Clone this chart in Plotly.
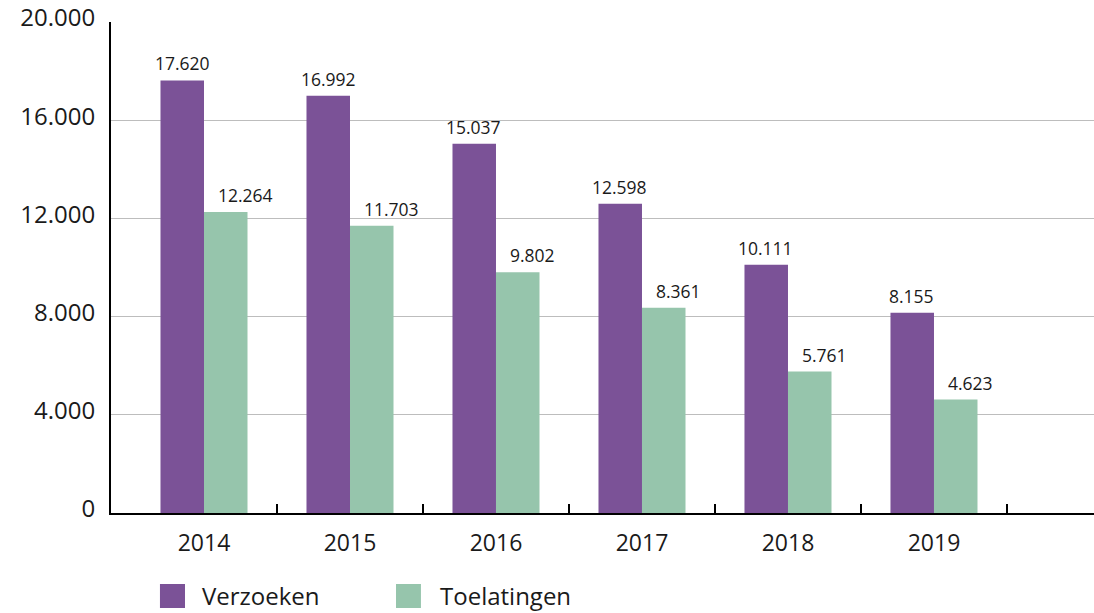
import plotly.graph_objects as go

years = ["2014", "2015", "2016", "2017", "2018", "2019"]
verzoeken = [17620, 16992, 15037, 12598, 10111, 8155]
toelatingen = [12264, 11703, 9802, 8361, 5761, 4623]
series_names = ["Verzoeken", "Toelatingen"]
series_colors = ["#7b5297", "#96c5ac"]
y_ticks = [0, 4000, 8000, 12000, 16000, 20000]

FONT = "Open Sans"
TXT = "#1a1a1a"

fig = go.Figure()
for name, vals, col in zip(series_names, [verzoeken, toelatingen], series_colors):
    fig.add_trace(go.Bar(x=years, y=vals, name=name, marker_color=col,
                         marker_line_width=0, showlegend=False, hoverinfo="x+y"))

# boundary ticks between categories (invisible helper trace on overlay axis)
bounds = [i + 0.5 for i in range(len(years))]
fig.add_trace(go.Scatter(x=bounds, y=[0] * len(bounds), xaxis="x2", mode="markers",
                         marker=dict(opacity=0), showlegend=False, hoverinfo="skip"))

# data labels: first series centred over bar, second series left-aligned a bit inside
label_style = [(-22, "center"), (12, "left")]
for vals, (dx, anchor) in zip([verzoeken, toelatingen], label_style):
    for i, v in enumerate(vals):
        fig.add_annotation(x=i, y=v, xref="x", yref="y", text=f"{v:,}".replace(",", "."),
                           showarrow=False, xshift=dx, xanchor=anchor,
                           yanchor="bottom", yshift=3,
                           font=dict(family=FONT, size=17.5, color=TXT))

# manual legend
leg_x = [(0.0498, 0.0753, 0.0905), (0.2899, 0.3153, 0.3327)]
for (x0, x1, xt), name, col in zip(leg_x, series_names, series_colors):
    fig.add_shape(type="rect", xref="paper", yref="paper", x0=x0, x1=x1,
                  y0=-0.1446, y1=-0.1935, fillcolor=col, line_width=0)
    fig.add_annotation(xref="paper", yref="paper", x=xt, y=-0.169, text=name,
                       showarrow=False, xanchor="left", yanchor="middle",
                       font=dict(family=FONT, size=24, color=TXT))

xr = [-0.637, 6.096]
fig.update_layout(
    width=1094, height=613,
    margin=dict(l=111, r=0, t=22, b=100),
    plot_bgcolor="white", paper_bgcolor="white",
    barmode="group", bargap=0.404, bargroupgap=0,
    separators=",.",
    font=dict(family=FONT, color=TXT),
    xaxis=dict(type="category", range=xr, showgrid=False, ticks="",
               showline=True, linecolor="black", linewidth=2,
               tickfont=dict(family=FONT, size=23, color=TXT), ticklabelstandoff=8),
    xaxis2=dict(overlaying="x", range=xr, showgrid=False, showline=False, zeroline=False,
                tickmode="array", tickvals=bounds, showticklabels=False,
                ticks="inside", ticklen=9, tickwidth=2, tickcolor="black",
                side="bottom", anchor="y"),
    yaxis=dict(range=[0, 20000], tickvals=y_ticks, tickformat=",d",
               showgrid=True, gridcolor="#bdbdbd", gridwidth=1, zeroline=False,
               showline=True, linecolor="black", linewidth=2, ticks="",
               tickfont=dict(family=FONT, size=24, color=TXT),
               ticklabelstandoff=9, ticklabelshift=-4),
)

fig.write_html("out.html", config={"displayModeBar": False},
               post_script="document.body.style.margin='0';document.body.style.overflow='hidden';")
